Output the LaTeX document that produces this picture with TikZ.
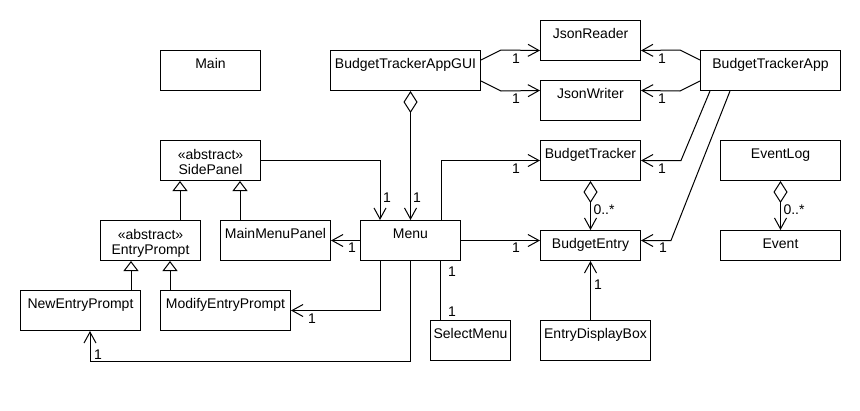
\documentclass[tikz,border=0pt]{standalone}
\usepackage{fontspec}
\setmainfont{Liberation Sans}
\usetikzlibrary{arrows.meta}

\begin{document}
\begin{tikzpicture}[x=1pt, y=-1pt, line width=1pt, font=\fontsize{14}{15}\selectfont]

%STYLE SETTINGS
\tikzstyle{cls}=[draw, anchor=north west, inner sep=0pt, align=center, minimum width=100pt, text height=18pt, text depth=22pt]
\tikzstyle{abstr}=[cls, text height=34pt, text depth=6pt]
\tikzstyle{flat}=[text depth=12pt]
\tikzstyle{assoc}=[-{Straight Barb[length=11pt,width=12pt]}]
\tikzstyle{inherit}=[-{Triangle[open,length=10pt,width=15pt]}]
\tikzstyle{aggr}=[{Diamond[open,length=22pt,width=14pt]}-{Straight Barb[length=11pt,width=12pt]}]
\tikzstyle{mult}=[inner sep=0pt]

\useasboundingbox (0,0) rectangle (860,410);

%NODES
\node[cls] (main) at (160,50) {Main};
\node[cls, minimum width=150pt] (gui) at (330,50) {BudgetTrackerAppGUI};
\node[cls] (jreader) at (540,20) {JsonReader};
\node[cls] (jwriter) at (540,80) {JsonWriter};
\node[cls, minimum width=140pt] (app) at (700,50) {BudgetTrackerApp};
\node[abstr] (sidepanel) at (160,140) {«abstract»\\SidePanel};
\node[cls] (tracker) at (540,140) {BudgetTracker};
\node[cls, minimum width=120pt] (eventlog) at (720,140) {EventLog};
\node[abstr] (prompt) at (100,220) {«abstract»\\EntryPrompt};
\node[cls, minimum width=110pt] (mainpanel) at (220,220) {MainMenuPanel};
\node[cls] (menu) at (360,220) {Menu};
\node[cls, flat] (entry) at (540,230) {BudgetEntry};
\node[cls, flat, minimum width=120pt] (event) at (720,230) {Event};
\node[cls, minimum width=120pt] (newprompt) at (20,290) {NewEntryPrompt};
\node[cls, minimum width=130pt] (modprompt) at (160,290) {ModifyEntryPrompt};
\node[cls, minimum width=80pt] (selectmenu) at (430,320) {SelectMenu};
\node[cls, minimum width=110pt] (displaybox) at (540,320) {EntryDisplayBox};

%ASSOCIATIONS
\draw[assoc] ([yshift=-10pt]gui.north east) -- ++(20,-10) -- ([yshift=-10pt]jreader.west);
\draw[assoc] ([yshift=10pt]gui.south east) -- ++(20,10) -- ([yshift=10pt]jwriter.west);
\draw[assoc] ([yshift=-10pt]app.north west) -- ++(-20,-10) -- ([yshift=-10pt]jreader.east);
\draw[assoc] ([yshift=10pt]app.south west) -- ++(-20,10) -- ([yshift=10pt]jwriter.east);
\draw[assoc] ([xshift=10pt]app.south west) -- ([xshift=40pt]tracker.east) -- (tracker.east);
\draw[assoc] ([xshift=30pt]app.south west) -- ([xshift=30pt]entry.east |- menu.east) -- (entry.east |- menu.east);
\draw[assoc] (sidepanel.east) -| ([xshift=20pt]menu.north west);
\draw[assoc] (menu.west) -- (mainpanel.east);
\draw[assoc] ([xshift=20pt]menu.south west) |- (modprompt.east);
\draw[assoc] (menu.south) -- ++(0,100) -| ([xshift=70pt]newprompt.south west);
\draw ([xshift=10pt]selectmenu.north west |- menu.south) -- ([xshift=10pt]selectmenu.north west);
\draw[assoc] ([xshift=-20pt]menu.north east) |- (tracker.west);
\draw[assoc] (menu.east) -- (menu.east -| entry.west);
\draw[assoc] (entry.south |- displaybox.north) -- (entry.south);

%AGGREGATIONS
\draw[aggr] (gui.south -| menu.north) -- (menu.north);
\draw[aggr] (tracker.south) -- (entry.north);
\draw[aggr] (eventlog.south) -- (event.north);

%GENERALIZATIONS
\draw[inherit] ([xshift=20pt]sidepanel.south west |- prompt.north) -- ([xshift=20pt]sidepanel.south west);
\draw[inherit] ([xshift=20pt]mainpanel.north west) -- ([xshift=20pt]mainpanel.north west |- sidepanel.south);
\draw[inherit] ([xshift=-10pt]newprompt.north east) -- ([xshift=-10pt]newprompt.north east |- prompt.south);
\draw[inherit] ([xshift=10pt]modprompt.north west) -- ([xshift=10pt]modprompt.north west |- prompt.south);

%MULTIPLICITIES
\node[mult] (mreader) at (516,59) {1};
\node[mult] (mwriter) at (516,99) {1};
\node[mult] (mappreader) at (662,59) {1};
\node[mult] (mappwriter) at (662,99) {1};
\node[mult] (mapptracker) at (662,169) {1};
\node[mult] (mappentry) at (663,248) {1};
\node[mult] (mmenutracker) at (516,169) {1};
\node[mult] (mmenuentry) at (516,248) {1};
\node[mult, anchor=west] (mentries) at (593,210) {0..*};
\node[mult, anchor=west] (mevents) at (783,210) {0..*};
\node[mult] (mdisplay) at (598,285) {1};
\node[mult] (mselecttop) at (452,272) {1};
\node[mult] (mselectbot) at (452,312) {1};
\node[mult] (mside) at (387,198) {1};
\node[mult] (mgui) at (417,198) {1};
\node[mult] (mmainpanel) at (352,248) {1};
\node[mult] (mmodify) at (312,319) {1};
\node[mult] (mnew) at (98,355) {1};

\end{tikzpicture}
\end{document}
